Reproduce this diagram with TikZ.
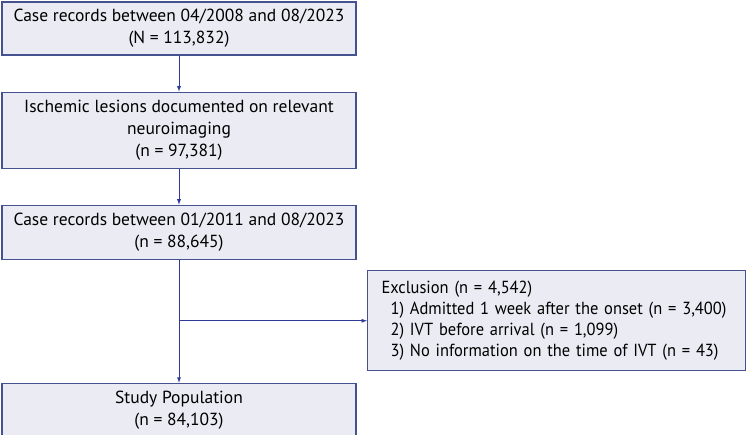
\documentclass[tikz,border=0pt]{standalone}
\usepackage{fontspec}
\setmainfont{PT Sans}
\newfontfamily\exclfont[FakeStretch=0.94]{PT Sans}
\usetikzlibrary{arrows,positioning,shapes}
\definecolor{boxfill}{HTML}{EBEBF4}
\definecolor{boxline}{HTML}{45528F}
\definecolor{arrowblue}{HTML}{2F3A98}

\begin{document}
\begin{tikzpicture}[x=1pt,y=1pt,node distance=36pt,font=\fontsize{17.5}{22}\selectfont]
	\tikzstyle{rect}=[draw=boxline, fill=boxfill, line width=1.1pt, rectangle, text centered, align=center, minimum width=354pt, inner sep=0pt]
	\tikzstyle{rect_ex}=[draw=boxline, fill=boxfill, line width=1.1pt, rectangle, align=left, minimum width=378pt, minimum height=100pt, text width=350pt, inner xsep=14pt, font=\exclfont\fontsize{17.5}{20.8}\selectfont]
	\tikzstyle{flow}=[draw=arrowblue, line width=0.9pt, ->, >=latex]

	\useasboundingbox (0,0) rectangle (747,-434);

	\node[rect,minimum height=53pt] (rec08) at (179,-28.5) {Case records between 04/2008 and 08/2023\\(N = 113,832)};
	\node[rect,minimum height=76pt] (isch) [below=of rec08] {Ischemic lesions documented on relevant\\neuroimaging\\(n = 97,381)};
	\node[rect,minimum height=54pt] (rec11) [below=of isch] {Case records between 01/2011 and 08/2023\\(n = 88,645)};
	\coordinate[below=61pt of rec11] (split);
	\node[rect,minimum height=53pt] (study) [below=62pt of split] {Study Population\\(n = 84,103)};
	\node[rect_ex,anchor=west] (excl) [right=188pt of split] {Exclusion (n = 4,542)\\
	\hspace{9pt}1) Admitted 1 week after the onset (n = 3,400)\\
	\hspace{9pt}2) IVT before arrival (n = 1,099)\\
	\hspace{9pt}3) No information on the time of IVT (n = 43)};

	\draw[flow] (rec08) -- (isch);
	\draw[flow] (isch) -- (rec11);
	\draw[flow] (rec11) -- (study);
	\draw[flow] (split) -- (excl);
\end{tikzpicture}
\end{document}
